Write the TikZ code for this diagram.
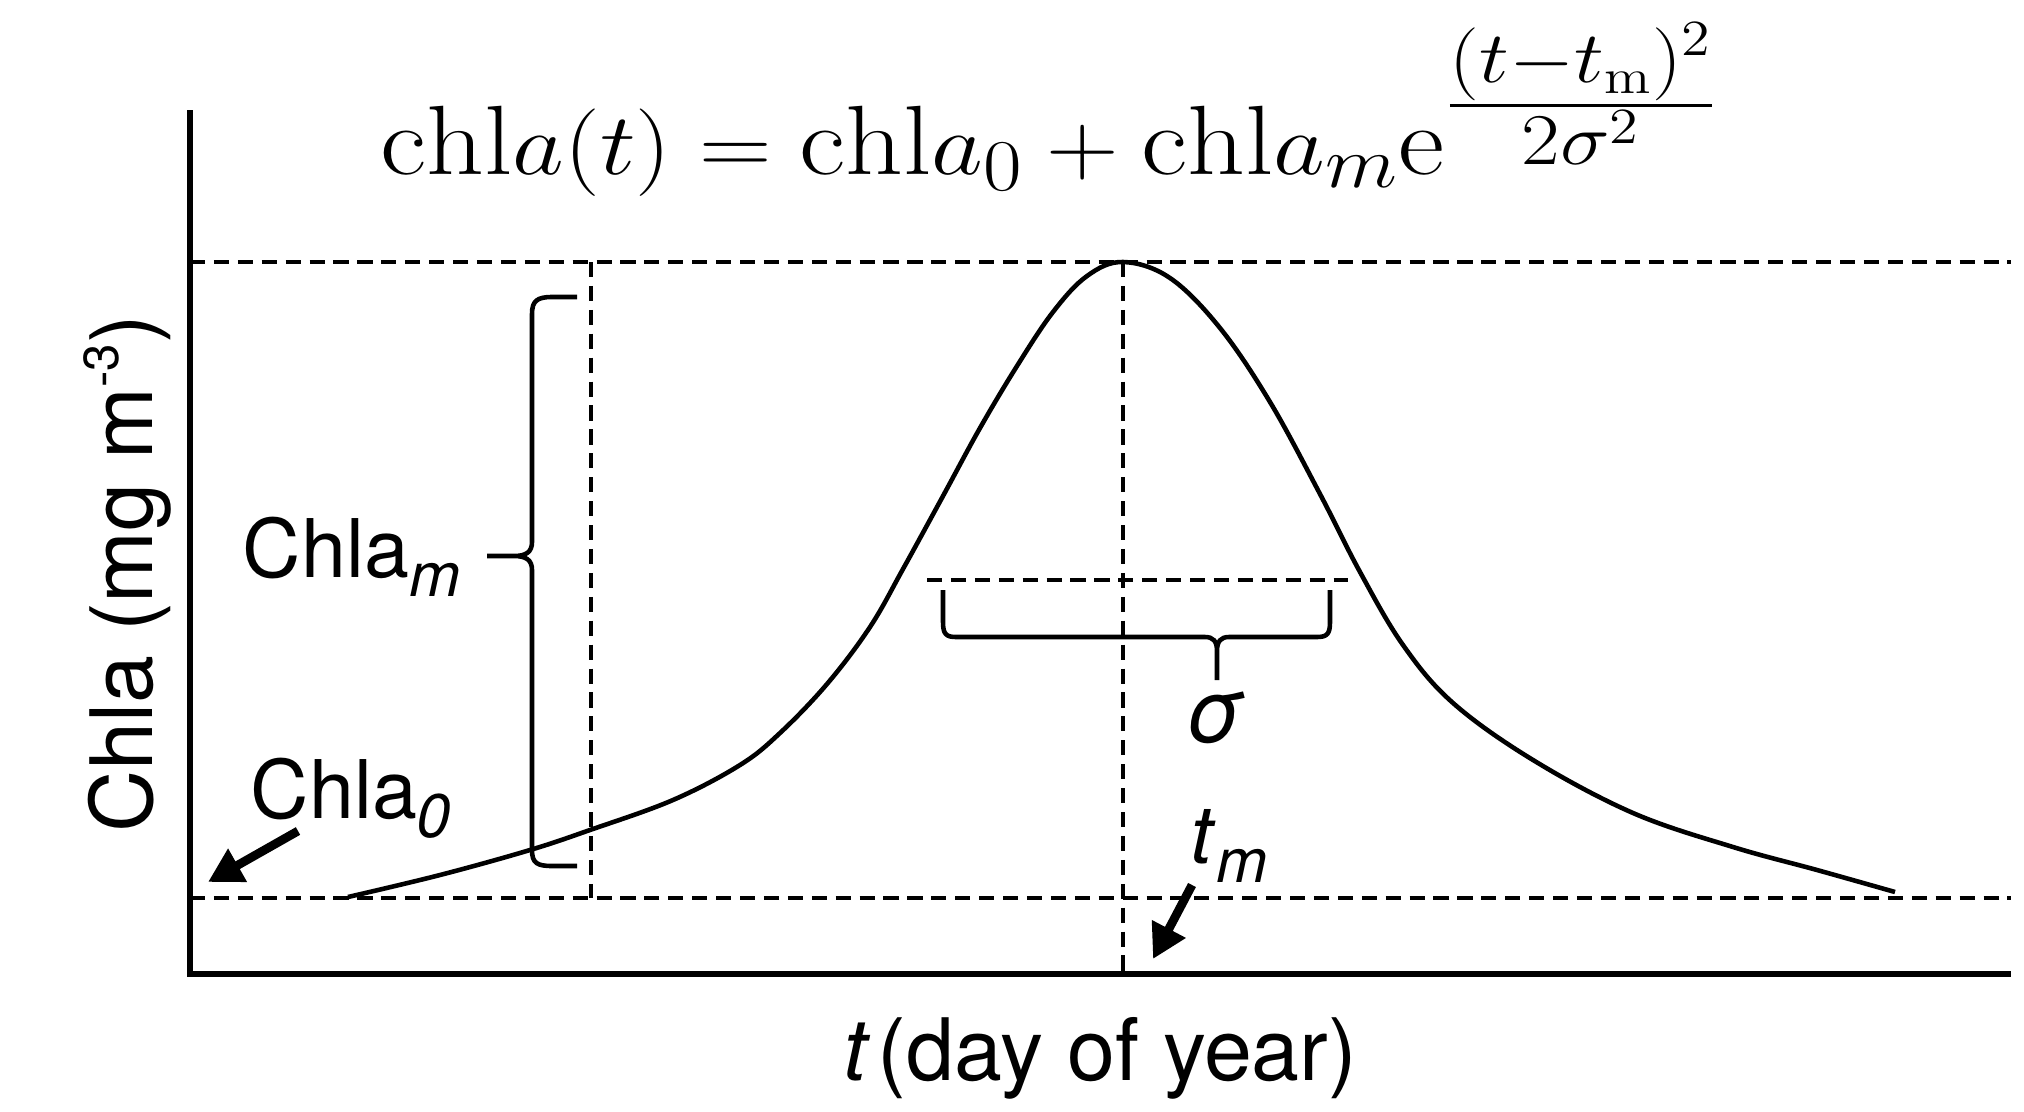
\documentclass[tikz,border=0pt]{standalone}
\usepackage{amsmath}
\usepackage{graphicx}
\usepackage{fontspec}
\setsansfont{TeX Gyre Heros}
\usetikzlibrary{arrows.meta}
\newcommand{\lowsub}[1]{\raisebox{-0.19cm}{\fontsize{17.5}{17.5}\selectfont\itshape #1}}

\begin{document}
\begin{tikzpicture}[x=0.01cm,y=-0.01cm,
  dashline/.style={line width=1.3pt,dash pattern=on 4.3pt off 2.5pt},
  axisline/.style={line width=1.5pt},
  curveline/.style={line width=1.3pt},
  bracepath/.style={line width=1.3pt},
  bigarrow/.style={line width=2.5pt,-{Triangle[length=0.34cm,width=0.36cm]}},
  lab/.style={font=\sffamily\fontsize{23}{23}\selectfont,inner sep=0pt},
  axlab/.style={font=\sffamily\fontsize{24.5}{24.5}\selectfont,inner sep=0pt}]
\useasboundingbox (0,0) rectangle (2024,1112);
% guide lines
\draw[dashline] (190,262) -- (2011,262);
\draw[dashline] (190,898) -- (2011,898);
\draw[dashline] (591,262) -- (591,898);
\draw[dashline] (1123,262) -- (1123,974);
\draw[dashline] (927,580) -- (1348,580);
% axes
\draw[axisline] (190,110) -- (190,974) -- (2011,974);
% bloom curve
\draw[curveline] plot[smooth,tension=0.6] coordinates {(348,897) (440,875) (530,850) (590,830)
  (673,800) (740,765) (780,733) (827,684) (870,627) (903,569) (943,496) (980,428)
  (1017,366) (1053,312) (1087,276) (1123,262) (1170,278) (1220,328) (1270,402)
  (1320,494) (1360,572) (1403,645) (1453,703) (1533,760) (1633,813) (1733,847)
  (1817,870) (1895,892)};
% braces
\draw[bracepath] (577,297) -- (552,297) .. controls (537,297) and (532,301) .. (532,314)
  -- (532,542) .. controls (532,552) and (526,556) .. (514,556) -- (487,556)
  -- (514,556) .. controls (526,556) and (532,560) .. (532,570)
  -- (532,850) .. controls (532,863) and (537,866) .. (552,866) -- (577,866);
\draw[bracepath] (943,590) -- (943,622) .. controls (943,634) and (946,637) .. (956,637)
  -- (1205,637) .. controls (1213,637) and (1217,641) .. (1217,651) -- (1217,680)
  (1217,651) .. controls (1217,641) and (1221,637) .. (1229,637)
  -- (1317,637) .. controls (1327,637) and (1330,634) .. (1330,622) -- (1330,590);
% labels
\node[anchor=base west,inner sep=0pt,font=\fontsize{28}{28}\selectfont] (eqn) at (380,174)
  {\scalebox{1.15}[1]{$\mathrm{chl}a(t)=\mathrm{chl}a_0+\mathrm{chl}a_m\mathrm{e}^{\textstyle\frac{(t-t_\mathrm{m})^2}{2\sigma^2}}$}};
\node[axlab,rotate=90,anchor=base] (ylab) at (152,574)
  {Chla (mg m\raisebox{0.75ex}{\fontsize{14}{14}\selectfont -3})};
\node[axlab,anchor=base west] (xlab) at (843,1080) {\textit{t}\hspace{2pt}(day of year)};
\node[lab,anchor=base west] (chlam) at (242,577) {Chla\lowsub{m}};
\node[lab,anchor=base west] (chla0) at (250,818) {Chla\lowsub{0}};
\node[lab,anchor=base west] (tm) at (1190,863) {\textit{t}\lowsub{m}};
\node[lab,anchor=base] (sig) at (1215,742) {\fontsize{25}{25}\selectfont\textit{σ}};
% arrows
\coordinate (c0tail) at (298,831);
\coordinate (c0tip) at (208,882);
\coordinate (tmtail) at (1192,885);
\coordinate (tmtip) at (1153,959);
\draw[bigarrow] (c0tail) -- (c0tip);
\draw[bigarrow] (tmtail) -- (tmtip);
\end{tikzpicture}
\end{document}
